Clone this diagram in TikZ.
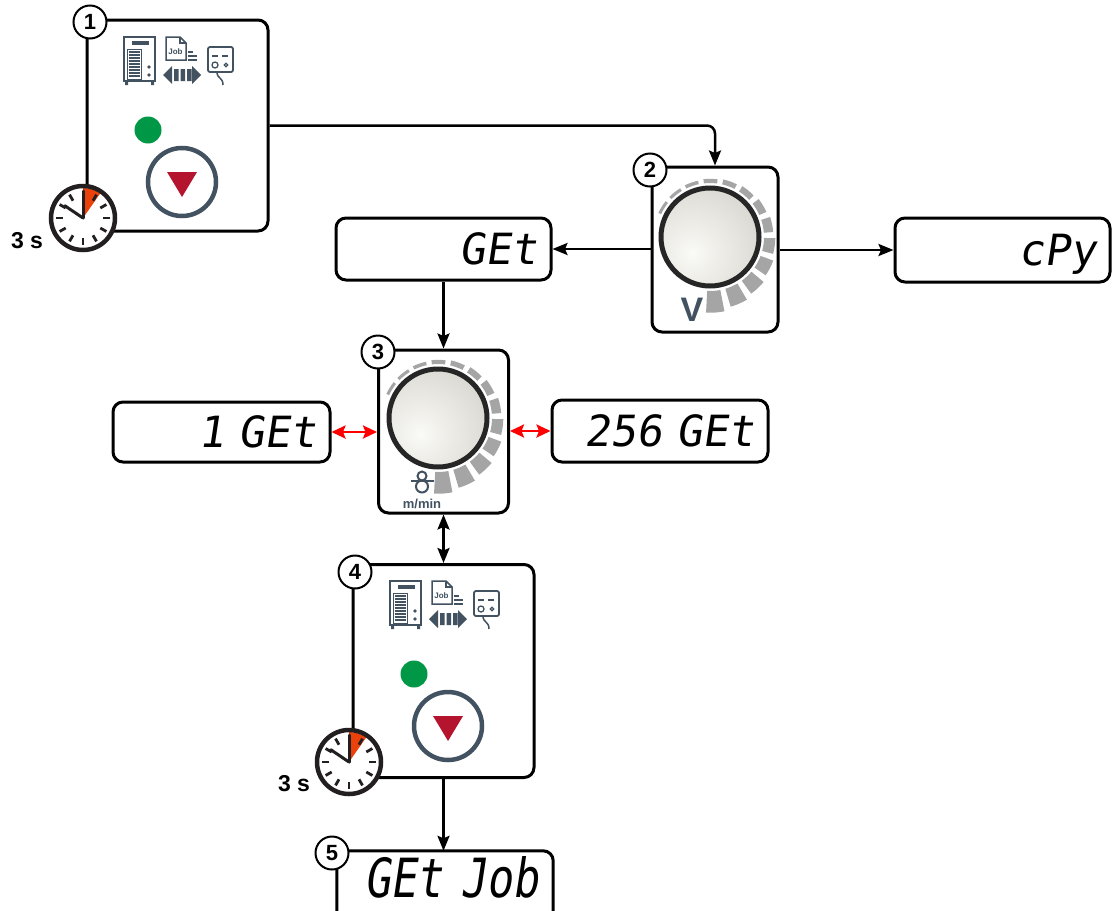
\documentclass[tikz,border=0pt]{standalone}
\usepackage{fontspec}
\setmainfont{Liberation Sans}
\newfontfamily\segfont[FakeSlant=0.15]{DejaVu Sans Mono}
\newfontfamily\segfontwide[FakeSlant=0.15,FakeStretch=0.8]{DejaVu Sans Mono}
\usetikzlibrary{arrows.meta,calc}
\definecolor{slate}{RGB}{66,82,96}
\definecolor{btnred}{RGB}{180,20,46}
\definecolor{ledgreen}{RGB}{0,152,70}
\definecolor{timerred}{RGB}{235,65,10}
\definecolor{scalegray}{RGB}{165,165,165}
\definecolor{knobin}{RGB}{250,250,246}
\definecolor{knobout}{RGB}{188,185,176}
\definecolor{ringc}{RGB}{38,38,38}
\definecolor{clockc}{RGB}{35,31,32}
\tikzset{
  panelbox/.style={draw, line width=3pt, rounded corners=10pt, minimum width=181pt},
  knobbox/.style={draw, line width=3pt, rounded corners=10pt},
  disp/.style={draw, line width=3pt, rounded corners=10pt, minimum height=62pt,
    text width=#1, inner xsep=14pt, align=right,
    font=\segfont\fontsize{43}{43}\selectfont, text height=31pt, text depth=0pt},
  badge/.style={circle, draw, line width=2pt, fill=white, minimum size=33pt,
    inner sep=0pt, font=\bfseries\fontsize{22}{22}\selectfont},
  lbl/.style={font=\bfseries\fontsize{23}{23}\selectfont, inner sep=0pt},
  conn/.style={line width=2.5pt, -{Stealth[length=15pt,width=12pt,inset=2.5pt]}},
  dconn/.style={line width=2.5pt, {Stealth[length=15pt,width=12pt,inset=2.5pt]}-{Stealth[length=15pt,width=12pt,inset=2.5pt]}},
  redconn/.style={line width=2.5pt, red, {Stealth[length=14pt,width=13pt,inset=2.5pt]}-{Stealth[length=14pt,width=13pt,inset=2.5pt]}},
  knob/.pic={
    \begin{scope}
      \clip (0,0) circle (49);
      \shade[inner color=knobin, outer color=knobout] (-18,16) circle (140);
    \end{scope}
    \foreach \i in {0,...,12}{
      \pgfmathsetmacro\ta{-(148-\i*19.5)-7}
      \pgfmathsetmacro\tb{-(148-\i*19.5)+7}
      \pgfmathsetmacro\ro{57+0.13*\i*\i}
      \fill[scalegray] (\ta:54) arc[start angle=\ta, end angle=\tb, radius=54]
        -- (\tb:\ro) arc[start angle=\tb, end angle=\ta, radius=\ro] -- cycle;
    }
    \draw[ringc, line width=5pt] (0,0) circle (49);
  },
  clock/.pic={
    \fill[white] (0,0) circle (32);
    \fill[timerred] (0,0) -- (-90:30) arc[start angle=-90, end angle=-55, radius=30] -- cycle;
    \foreach \a in {0,30,...,330} \draw[clockc, line width=2.8pt] (\a:20) -- (\a:27);
    \draw[clockc, line width=3pt, line cap=round] (0,0) -- (-90:27);
    \draw[clockc, line width=3pt, line cap=round] (0,0) -- (-146:22);
    \draw[clockc, line width=4.5pt] (0,0) circle (32);
  },
  panelstuff/.pic={
    % machine
    \draw[slate, line width=2.2pt] (124,37) rectangle (155,81);
    \fill[slate] (132,41) rectangle (149,44.5);
    \draw[slate, line width=1pt] (127,49) rectangle (141,79);
    \foreach \yy in {52,55,...,77} \draw[slate, line width=1.1pt] (128.5,\yy) -- (139.5,\yy);
    \fill[slate] (149,67) circle (1.8) (149,75) circle (1.8);
    \fill[slate] (125,81) rectangle (128,85) (151,81) rectangle (154,85);
    % job document
    \draw[slate, line width=1.5pt, fill=white] (166,37) -- (180,37) -- (186,43) -- (186,60) -- (166,60) -- cycle;
    \draw[slate, line width=1.2pt] (180,37) -- (180,43) -- (186,43);
    \node[text=slate, font=\bfseries\fontsize{8}{8}\selectfont, inner sep=0pt] at (175.5,52) {Job};
    \draw[slate, line width=1.5pt] (188,52) -- (193,52) (188,56) -- (197,56) (188,60) -- (197,60);
    % double arrow
    \fill[slate] (163,75) -- (172,66) -- (172,84) -- cycle;
    \fill[slate] (174,69) rectangle (178.5,81) (180.5,69) rectangle (185,81) (187,69) rectangle (191.5,81);
    \fill[slate] (201,75) -- (192,66) -- (192,84) -- cycle;
    % remote
    \draw[slate, line width=1.8pt, rounded corners=2pt] (208,47) rectangle (233,72);
    \draw[slate, line width=2pt] (212,56) -- (218,56) (222,56) -- (228,56);
    \draw[slate, line width=1.3pt] (215,65) circle (3);
    \draw[slate, line width=1.2pt] (226,65) circle (1.8);
    \draw[slate, line width=1.5pt] (217,72) .. controls (217,79) and (223,77) .. (223,85);
    % led and button
    \fill[ledgreen] (148,130) circle (13.5);
    \draw[slate, line width=4.5pt] (182,182) circle (34);
    \fill[btnred] (167,172) -- (197,172) -- (182,197) -- cycle;
  }
}
\begin{document}
\begin{tikzpicture}[x=1pt,y=-1pt]
\useasboundingbox (0,0) rectangle (1115,910);

% panels
\node[panelbox, minimum height=211pt] (p1) at (177.5,125.5) {};
\node[panelbox, minimum height=213pt] (p4) at (443.5,671) {};
\pic (c1) at (0,0) {panelstuff};
\pic (c4) at (266,544) {panelstuff};

% knob boxes
\node[knobbox, minimum width=126pt, minimum height=165pt] (k2) at (715,249.5) {};
\node[knobbox, minimum width=130pt, minimum height=163pt] (k3) at (443.5,431.5) {};
\pic (kn2) at (710,237) {knob};
\pic (kn3) at (438,418) {knob};
\node[text=slate, font=\bfseries\fontsize{34}{34}\selectfont, inner sep=0pt] (vl) at (692,310) {V};
\draw[slate, line width=2pt] (422,476) circle (4.5) (422,486.5) circle (6);
\draw[slate, line width=2pt] (411,481) -- (434,481);
\node[text=slate, font=\bfseries\fontsize{13}{13}\selectfont, inner sep=0pt] (mm) at (422,504) {m/min};

% displays
\node[disp=187pt] (get) at (443.5,249) {GEt};
\node[disp=187pt, minimum height=64pt] (cpy) at (1002.5,250) {cPy};
\node[disp=189pt, minimum height=60pt] (one) at (221.5,432) {1 GEt};
\node[disp=188pt] (two) at (660,431) {256 GEt};
% last display: its frame runs off the bottom edge, as in the reference
\node[text width=188pt, inner xsep=14pt, inner ysep=0pt, align=right,
      minimum height=56pt, text height=36pt, text depth=0pt,
      font=\segfontwide\fontsize{54}{54}\selectfont] (gj) at (445,879) {GEt Job};
\draw[line width=3pt, rounded corners=10pt]
  ($(gj.south west)+(0,20)$) -- (gj.north west) -- (gj.north east) -- ($(gj.south east)+(0,20)$);

% connectors
\draw[conn, rounded corners=8pt] (p1.east) -- (p1.east -| k2.north) -- (k2.north);
\draw[conn] (get.east -| k2.west) -- (get.east);
\draw[conn] (cpy.west -| k2.east) -- (cpy.west);
\draw[conn] (get.south) -- (get.south |- k3.north);
\draw[redconn] (one.east) -- (one.east -| k3.west);
\draw[redconn] (two.west -| k3.east) -- (two.west);
\draw[dconn] (k3.south) -- (k3.south |- p4.north);
\draw[conn] (p4.south) -- (p4.south |- gj.north);

% timers
\pic (t1) at (83,218) {clock};
\pic (t4) at (349,762) {clock};
\node[lbl] (s1) at (27,241) {3 s};
\node[lbl] (s4) at (294,784) {3 s};

% badges
\node[badge] (b1) at (90,22) {1};
\node[badge] (b2) at (650,170) {2};
\node[badge] (b3) at (378,352) {3};
\node[badge] (b4) at (355,572) {4};
\node[badge] (b5) at (332,853) {5};
\end{tikzpicture}
\end{document}
